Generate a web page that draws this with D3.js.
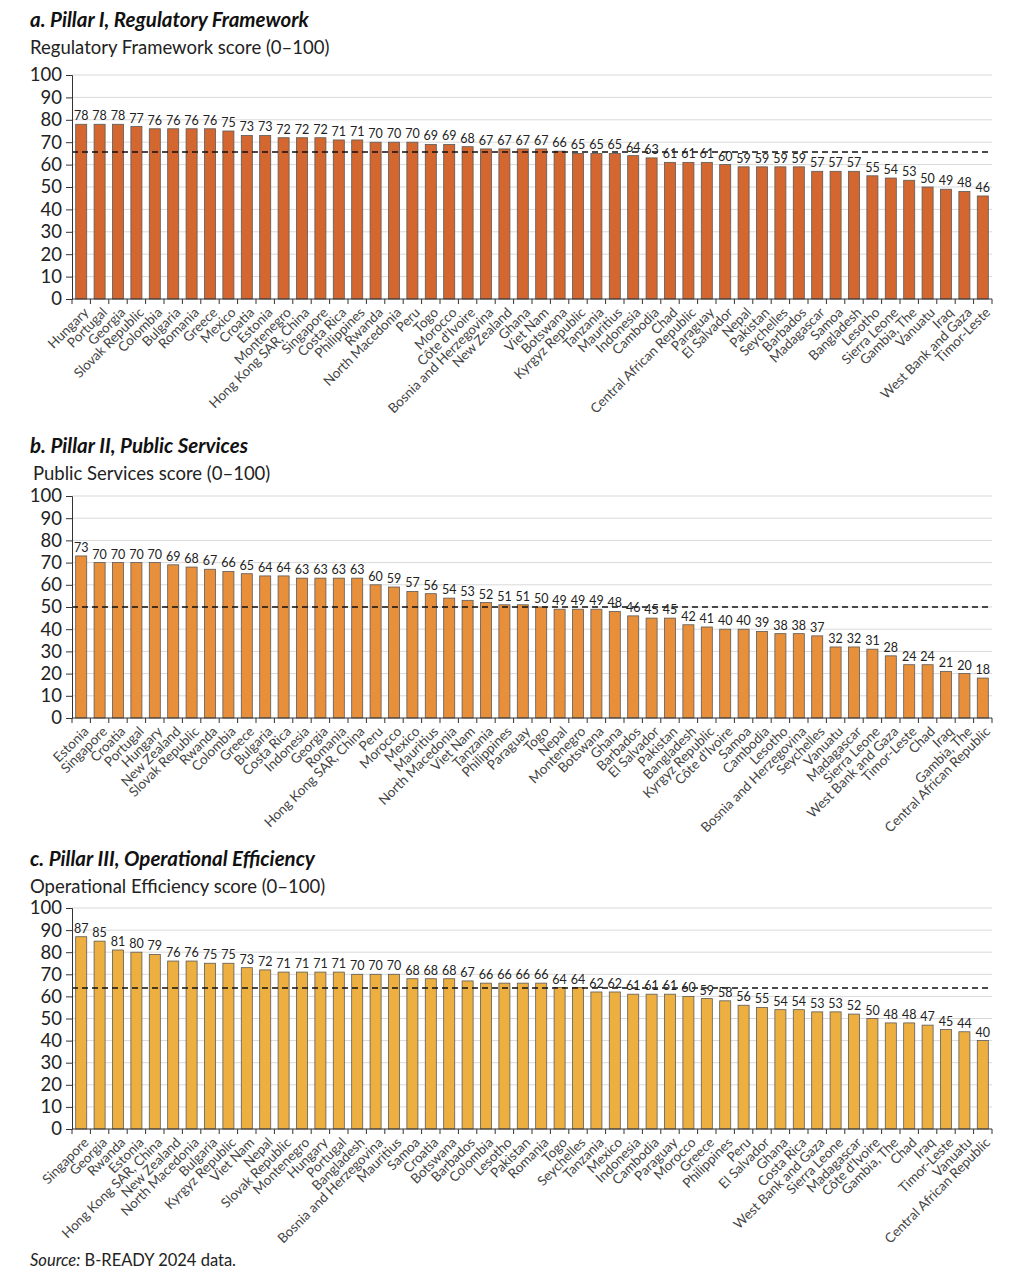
<!DOCTYPE html>
<html>
<head>
<meta charset="utf-8">
<script src="https://cdn.jsdelivr.net/npm/d3@7"></script>
<style>
  body { margin: 0; background: #fff; }
  svg { font-family: Lato, "Open Sans", sans-serif; }
</style>
</head>
<body>
<div id="chart"></div>
<script>
// Panel a, Regulatory Framework
const regCountries = ["Hungary", "Portugal", "Georgia", "Slovak Republic", "Colombia", "Bulgaria", "Romania", "Greece", "Mexico", "Croatia", "Estonia", "Montenegro", "Hong Kong SAR, China", "Singapore", "Costa Rica", "Philippines", "Rwanda", "North Macedonia", "Peru", "Togo", "Morocco", "Côte d'Ivoire", "Bosnia and Herzegovina", "New Zealand", "Ghana", "Viet Nam", "Botswana", "Kyrgyz Republic", "Tanzania", "Mauritius", "Indonesia", "Cambodia", "Chad", "Central African Republic", "Paraguay", "El Salvador", "Nepal", "Pakistan", "Seychelles", "Barbados", "Madagascar", "Samoa", "Bangladesh", "Lesotho", "Sierra Leone", "Gambia, The", "Vanuatu", "Iraq", "West Bank and Gaza", "Timor-Leste"];
const regValues = [78, 78, 78, 77, 76, 76, 76, 76, 75, 73, 73, 72, 72, 72, 71, 71, 70, 70, 70, 69, 69, 68, 67, 67, 67, 67, 66, 65, 65, 65, 64, 63, 61, 61, 61, 60, 59, 59, 59, 59, 57, 57, 57, 55, 54, 53, 50, 49, 48, 46];
const regAverage = 65.6;

// Panel b, Public Services
const pubCountries = ["Estonia", "Singapore", "Croatia", "Portugal", "Hungary", "New Zealand", "Slovak Republic", "Rwanda", "Colombia", "Greece", "Bulgaria", "Costa Rica", "Indonesia", "Georgia", "Romania", "Hong Kong SAR, China", "Peru", "Morocco", "Mexico", "Mauritius", "North Macedonia", "Viet Nam", "Tanzania", "Philippines", "Paraguay", "Togo", "Nepal", "Montenegro", "Botswana", "Ghana", "Barbados", "El Salvador", "Pakistan", "Bangladesh", "Kyrgyz Republic", "Côte d'Ivoire", "Samoa", "Cambodia", "Lesotho", "Bosnia and Herzegovina", "Seychelles", "Vanuatu", "Madagascar", "Sierra Leone", "West Bank and Gaza", "Timor-Leste", "Chad", "Iraq", "Gambia, The", "Central African Republic"];
const pubValues = [73, 70, 70, 70, 70, 69, 68, 67, 66, 65, 64, 64, 63, 63, 63, 63, 60, 59, 57, 56, 54, 53, 52, 51, 51, 50, 49, 49, 49, 48, 46, 45, 45, 42, 41, 40, 40, 39, 38, 38, 37, 32, 32, 31, 28, 24, 24, 21, 20, 18];
const pubAverage = 50;

// Panel c, Operational Efficiency
const opCountries = ["Singapore", "Georgia", "Rwanda", "Estonia", "Hong Kong SAR, China", "New Zealand", "North Macedonia", "Bulgaria", "Kyrgyz Republic", "Viet Nam", "Nepal", "Slovak Republic", "Montenegro", "Hungary", "Portugal", "Bangladesh", "Bosnia and Herzegovina", "Mauritius", "Samoa", "Croatia", "Botswana", "Barbados", "Colombia", "Lesotho", "Pakistan", "Romania", "Togo", "Seychelles", "Tanzania", "Mexico", "Indonesia", "Cambodia", "Paraguay", "Morocco", "Greece", "Philippines", "Peru", "El Salvador", "Ghana", "Costa Rica", "West Bank and Gaza", "Sierra Leone", "Madagascar", "Côte d'Ivoire", "Gambia, The", "Chad", "Iraq", "Timor-Leste", "Vanuatu", "Central African Republic"];
const opValues = [87, 85, 81, 80, 79, 76, 76, 75, 75, 73, 72, 71, 71, 71, 71, 70, 70, 70, 68, 68, 68, 67, 66, 66, 66, 66, 64, 64, 62, 62, 61, 61, 61, 60, 59, 58, 56, 55, 54, 54, 53, 53, 52, 50, 48, 48, 47, 45, 44, 40];
const opAverage = 63.8;

const yTicks = [0, 10, 20, 30, 40, 50, 60, 70, 80, 90, 100];

const width = 1024, height = 1274;
const left = 72, right = 992;

const svg = d3.select("#chart").append("svg")
  .attr("width", width)
  .attr("height", height);

function drawPanel(cfg) {
  const g = svg.append("g");

  // titulo y subtitulo
  g.append("text")
    .attr("x", 30).attr("y", cfg.titleY)
    .attr("font-size", 20.5).attr("font-weight", "bold").attr("font-style", "italic")
    .attr("fill", "#111")
    .text(cfg.title);
  g.append("text")
    .attr("x", cfg.subX).attr("y", cfg.titleY + 27)
    .attr("font-size", 18.5).attr("fill", "#222")
    .text(cfg.subtitle);

  const x = d3.scaleBand()
    .domain(cfg.countries)
    .range([left, right])
    .paddingInner(0.4)
    .paddingOuter(0.2);

  const y = d3.scaleLinear()
    .domain([0, 100])
    .range([cfg.bottom, cfg.top]);

  // grid
  g.append("g").selectAll("line")
    .data(yTicks.filter(d => d > 0))
    .join("line")
    .attr("x1", left).attr("x2", right)
    .attr("y1", d => y(d)).attr("y2", d => y(d))
    .attr("stroke", "#d9d9d9").attr("stroke-width", 1);

  // barras
  g.append("g").selectAll("rect")
    .data(cfg.values)
    .join("rect")
    .attr("x", (d, i) => x(cfg.countries[i]))
    .attr("width", x.bandwidth())
    .attr("y", d => y(d))
    .attr("height", d => y(0) - y(d))
    .attr("fill", cfg.color)
    .attr("stroke", "#5a5a5a")
    .attr("stroke-width", 0.8);

  // linea de promedio
  g.append("line")
    .attr("x1", left).attr("x2", right)
    .attr("y1", y(cfg.average)).attr("y2", y(cfg.average))
    .attr("stroke", "#111").attr("stroke-width", 1.5)
    .attr("stroke-dasharray", "6,4");

  // etiquetas de valor
  g.append("g").selectAll("text")
    .data(cfg.values)
    .join("text")
    .attr("x", (d, i) => x(cfg.countries[i]) + x.bandwidth() / 2)
    .attr("y", d => y(d) - 4)
    .attr("text-anchor", "middle")
    .attr("font-size", 12.5)
    .attr("fill", "#222")
    .text(d => d);

  // eje y
  const yAxis = g.append("g")
    .attr("transform", `translate(${left},0)`)
    .call(d3.axisLeft(y).tickValues(yTicks).tickSize(6).tickPadding(4));
  yAxis.select(".domain").attr("stroke", "#333");
  yAxis.selectAll(".tick line").attr("stroke", "#333");
  yAxis.selectAll("text")
    .attr("font-size", 18.5).attr("fill", "#222")
    .attr("font-family", "Lato, sans-serif");

  // eje x, marcas entre las barras
  const step = x.step();
  const edges = d3.range(cfg.countries.length + 1).map(i => left + i * step);
  g.append("g").selectAll("line")
    .data(edges)
    .join("line")
    .attr("x1", d => d).attr("x2", d => d)
    .attr("y1", cfg.bottom).attr("y2", cfg.bottom + 5)
    .attr("stroke", "#333");
  g.append("line")
    .attr("x1", left).attr("x2", right)
    .attr("y1", cfg.bottom).attr("y2", cfg.bottom)
    .attr("stroke", "#333").attr("stroke-width", 1.2);

  g.append("g").selectAll("text")
    .data(cfg.countries)
    .join("text")
    .attr("transform", d => `translate(${x(d) + x.bandwidth() / 2 + 5},${cfg.bottom + 11}) rotate(-45)`)
    .attr("text-anchor", "end")
    .attr("dy", "0.35em")
    .attr("font-size", 13.5)
    .attr("fill", "#444")
    .text(d => d);
}

drawPanel({
  title: "a. Pillar I, Regulatory Framework",
  subtitle: "Regulatory Framework score (0–100)",
  titleY: 27, subX: 30, top: 75, bottom: 299,
  countries: regCountries, values: regValues, average: regAverage,
  color: "#d3672f"
});

drawPanel({
  title: "b. Pillar II, Public Services",
  subtitle: "Public Services score (0–100)",
  titleY: 453, subX: 33, top: 496, bottom: 718,
  countries: pubCountries, values: pubValues, average: pubAverage,
  color: "#e88f3b"
});

drawPanel({
  title: "c. Pillar III, Operational Efficiency",
  subtitle: "Operational Efficiency score (0–100)",
  titleY: 866, subX: 30, top: 908, bottom: 1129,
  countries: opCountries, values: opValues, average: opAverage,
  color: "#edb040"
});

// fuente
const src = svg.append("text")
  .attr("x", 30).attr("y", 1266)
  .attr("font-size", 16.5).attr("fill", "#222");
src.append("tspan").attr("font-style", "italic").text("Source:");
src.append("tspan").text(" B-READY 2024 data.");
</script>
</body>
</html>
